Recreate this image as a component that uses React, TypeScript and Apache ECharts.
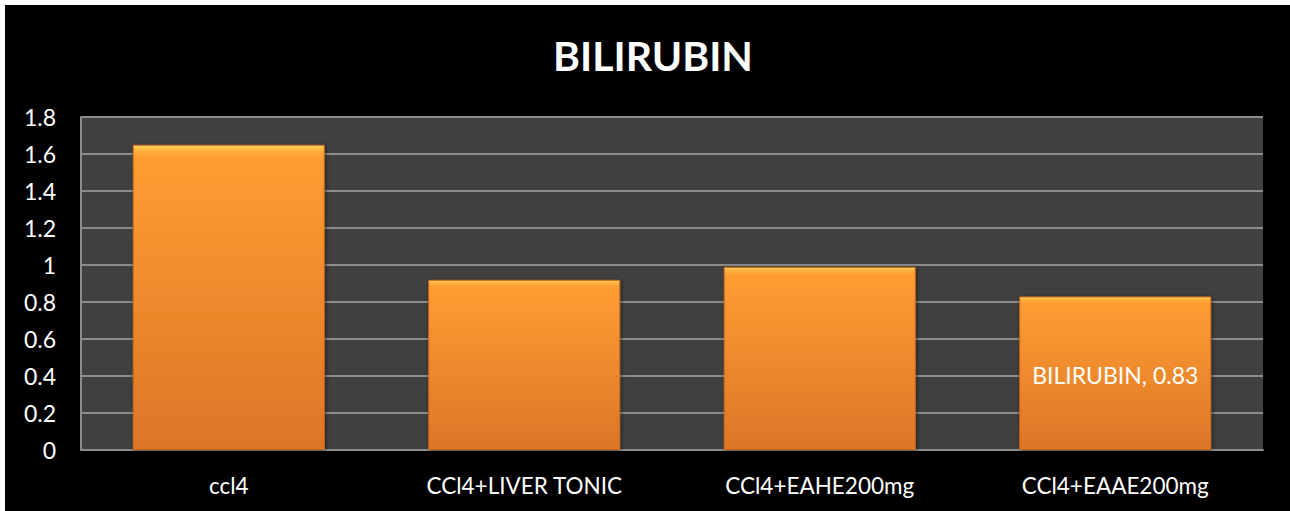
import React, { useEffect, useRef } from "react";
import * as echarts from "echarts";

const TITLE = "BILIRUBIN";
const SERIES_NAME = "BILIRUBIN";
const categories = ["ccl4", "CCl4+LIVER TONIC", "CCl4+EAHE200mg", "CCl4+EAAE200mg"];
const values = [1.65, 0.92, 0.99, 0.83];
const labelledIndex = [3];
const yMin = 0;
const yMax = 1.8;
const yStep = 0.2;

const FONT = "Lato, 'Open Sans', sans-serif";

export default function App() {
  const ref = useRef<HTMLDivElement>(null);
  useEffect(() => {
    if (!ref.current) return;
    const chart = echarts.init(ref.current, null, { renderer: "svg" });
    const barGradient = new echarts.graphic.LinearGradient(0, 0, 0, 1, [
      { offset: 0, color: "#FFD35E" },
      { offset: 0.015, color: "#FFB443" },
      { offset: 0.04, color: "#FF9D31" },
      { offset: 1, color: "#DC7628" },
    ]);
    chart.setOption({
      animation: false,
      backgroundColor: "#ffffff",
      graphic: [
        {
          type: "rect",
          z: -10,
          shape: { x: 5, y: 5, width: 1285, height: 506 },
          style: { fill: "#000000" },
          silent: true,
        },
      ],
      title: {
        text: TITLE,
        left: 648,
        textAlign: "center",
        top: 30,
        textStyle: { color: "#ffffff", fontFamily: FONT, fontWeight: "bold", fontSize: 41 },
      },
      grid: {
        left: 81,
        top: 117,
        right: 27,
        bottom: 61,
        show: true,
        backgroundColor: "#404040",
        borderWidth: 0,
        containLabel: false,
      },
      xAxis: {
        type: "category",
        data: categories,
        axisLine: { show: true, lineStyle: { color: "#8c8c8c", width: 2 } },
        axisTick: { show: false },
        axisLabel: { color: "#ffffff", fontFamily: FONT, fontSize: 22.5, margin: 24 },
        splitLine: { show: false },
      },
      yAxis: {
        type: "value",
        min: yMin,
        max: yMax,
        interval: yStep,
        axisLine: { show: true, lineStyle: { color: "#8c8c8c", width: 2 } },
        axisTick: { show: false },
        axisLabel: {
          color: "#ffffff",
          fontFamily: FONT,
          fontSize: 23,
          margin: 25,
          formatter: (v: number) => String(Math.round(v * 10) / 10),
        },
        splitLine: { show: true, lineStyle: { color: "#8c8c8c", width: 2 } },
      },
      series: [
        {
          name: SERIES_NAME,
          type: "bar",
          barCategoryGap: "35%",
          data: values.map((v, i) => ({
            value: v,
            label: labelledIndex.includes(i)
              ? {
                  show: true,
                  position: "inside",
                  formatter: "{a}, {c}",
                  color: "#ffffff",
                  fontFamily: FONT,
                  fontSize: 23,
                  offset: [0, 2],
                }
              : { show: false },
          })),
          itemStyle: {
            color: barGradient,
            borderColor: "#C9681F",
            borderWidth: 1,
            shadowColor: "rgba(0,0,0,0.5)",
            shadowBlur: 4,
            shadowOffsetX: 1,
            shadowOffsetY: 1,
          },
        },
      ],
    });
    return () => chart.dispose();
  }, []);
  return (
    <div
      ref={ref}
      style={{ position: "absolute", left: 0, top: 0, width: 1290, height: 511 }}
    />
  );
}
